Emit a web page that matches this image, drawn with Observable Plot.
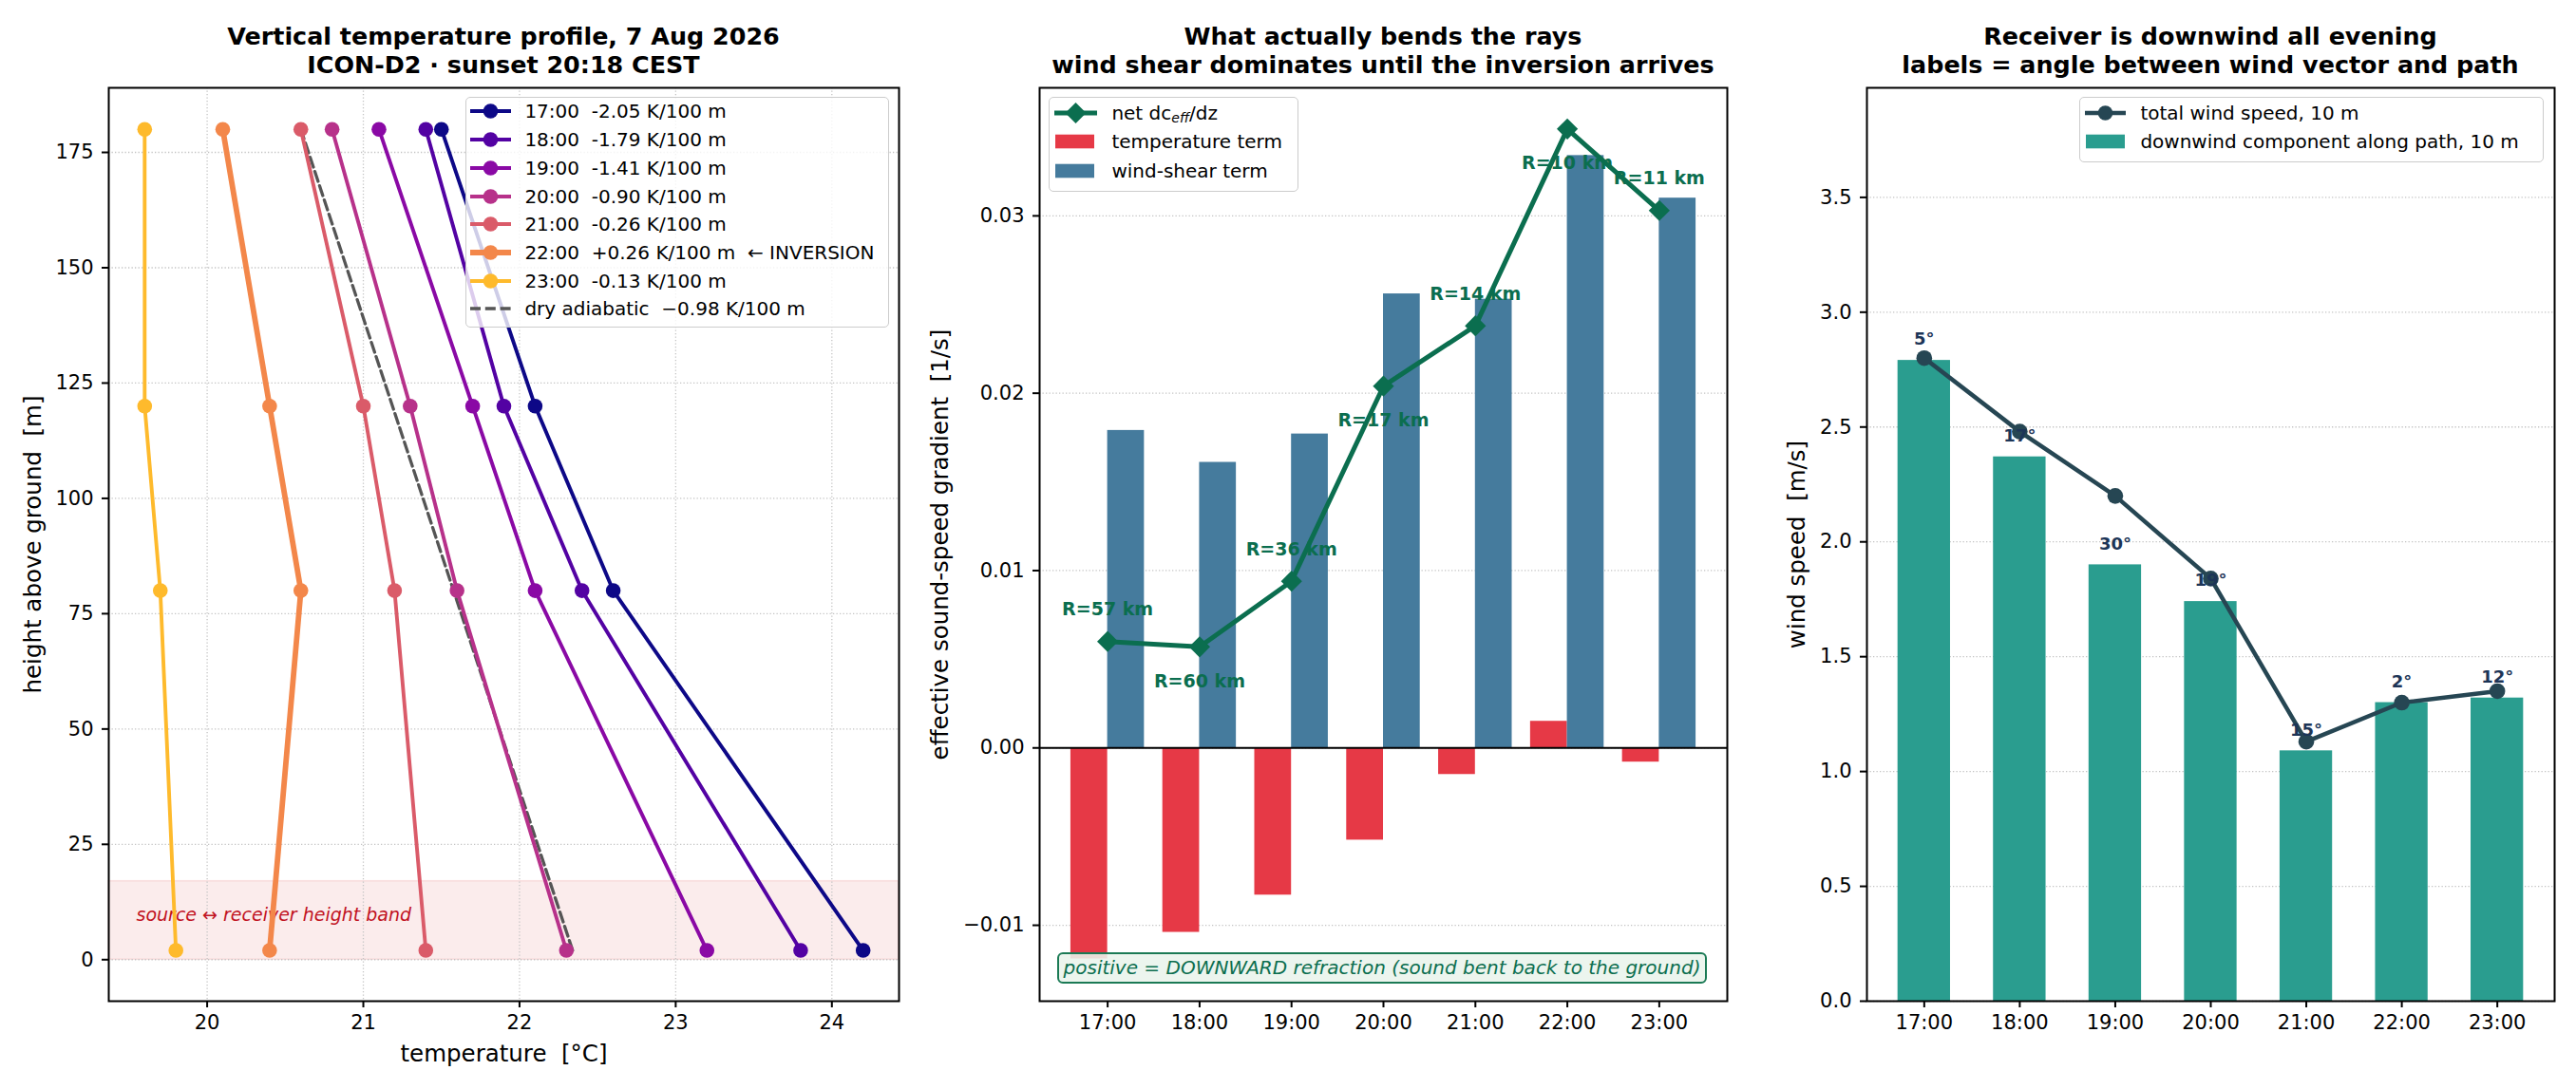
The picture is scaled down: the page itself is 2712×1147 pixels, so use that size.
<!DOCTYPE html>
<html>
<head>
<meta charset="utf-8">
<script src="https://cdn.jsdelivr.net/npm/d3@7"></script>
<script src="https://cdn.jsdelivr.net/npm/@observablehq/plot@0.6"></script>
<style>
html, body { margin: 0; padding: 0; background: #fff; }
#page { position: relative; width: 2712px; height: 1147px; overflow: hidden; font-family: "DejaVu Sans", sans-serif; color: #000; }
.panel { position: absolute; top: 72px; }
.panel svg { display: block; }
.title { position: absolute; top: 22.7px; font-weight: bold; font-size: 25.4px; line-height: 30.5px; text-align: center; white-space: nowrap; transform: translateX(-50%); }
.legend { position: absolute; box-sizing: border-box; border: 1.6px solid #cccccc; border-radius: 5px; background: rgba(255,255,255,0.8); }
.lrow { position: absolute; left: 0; width: 100%; height: 30px; }
.ltext { position: absolute; top: 0; line-height: 30px; font-size: 20px; white-space: pre; }
.note { position: absolute; box-sizing: border-box; border: 2px solid #1b7a55; border-radius: 6px; background: rgba(233,244,236,0.88); color: #0b6e4f; font-style: italic; font-size: 20px; line-height: 29px; text-align: center; white-space: nowrap; }
</style>
</head>
<body>
<div id="page"></div>
<script>
// ---------------- data ----------------
const hours = ["17:00", "18:00", "19:00", "20:00", "21:00", "22:00", "23:00"];

// panel 1: vertical temperature profiles
const heights = [2, 80, 120, 180];
const temp1700 = [24.2, 22.6, 22.1, 21.5];
const temp1800 = [23.8, 22.4, 21.9, 21.4];
const temp1900 = [23.2, 22.1, 21.7, 21.1];
const temp2000 = [22.3, 21.6, 21.3, 20.8];
const temp2100 = [21.4, 21.2, 21.0, 20.6];
const temp2200 = [20.4, 20.6, 20.4, 20.1];
const temp2300 = [19.8, 19.7, 19.6, 19.6];
const lapseLabels = ["-2.05", "-1.79", "-1.41", "-0.90", "-0.26", "+0.26", "-0.13"];
const dryAdiabatHeights = [2, 180];
const dryAdiabatTemps = [22.34, 20.6];
const bandHeights = [0, 17];
const tempTicks = [20, 21, 22, 23, 24];
const heightTicks = [0, 25, 50, 75, 100, 125, 150, 175];

// panel 2: gradient terms
const tempTerm = [-0.0119, -0.0104, -0.0083, -0.0052, -0.0015, 0.0015, -0.0008];
const shearTerm = [0.0179, 0.0161, 0.0177, 0.0256, 0.0253, 0.0334, 0.0310];
const netGradient = [0.0060, 0.0057, 0.0094, 0.0204, 0.0238, 0.0349, 0.0303];
const rayRadiusKm = [57, 60, 36, 17, 14, 10, 11];
const gradTicks = [-0.01, 0, 0.01, 0.02, 0.03];

// panel 3: wind
const totalWind = [2.80, 2.48, 2.20, 1.84, 1.13, 1.30, 1.35];
const downwindComp = [2.79, 2.37, 1.90, 1.74, 1.09, 1.30, 1.32];
const pathAngleDeg = [5, 17, 30, 19, 15, 2, 12];
const windTicks = [0, 0.5, 1, 1.5, 2, 2.5, 3, 3.5];

// ---------------- helpers ----------------
const page = document.getElementById("page");
const FONT = "DejaVu Sans";
const allTemps = [temp1700, temp1800, temp1900, temp2000, temp2100, temp2200, temp2300];
const profileColors = hours.map((_, i) => d3.interpolatePlasma(i * 0.85 / 6));
const idx = hours.map((_, i) => i);

function addPanel(left, width, svg) {
  const d = document.createElement("div");
  d.className = "panel";
  d.style.left = left + "px";
  d.style.width = width + "px";
  d.appendChild(svg);
  page.appendChild(d);
}
function addTitle(cx, html) {
  const d = document.createElement("div");
  d.className = "title";
  d.style.left = cx + "px";
  d.innerHTML = html;
  page.appendChild(d);
}
const gridStyle = {stroke: "#c4c4c4", strokeWidth: 1.3, strokeDasharray: "1.3,2.2", strokeOpacity: 1};
const axisStyle = {tickSize: 7, tickPadding: 8, strokeWidth: 2, fontSize: 21, label: null};
const yAxisStyle = {tickSize: 7, tickPadding: 9, strokeWidth: 2, fontSize: 21, label: null};

function yLabel(text, dx) {
  return Plot.text([text], {text: d => d, frameAnchor: "left", rotate: -90, dx, fontSize: 24.5, textAnchor: "middle", lineAnchor: "middle"});
}

// ---------------- panel 1 ----------------
const profileRows = allTemps.map((ts, k) => heights.map((z, j) => ({hour: hours[k], z, T: ts[j]})));
const dryRows = dryAdiabatHeights.map((z, j) => ({z, T: dryAdiabatTemps[j]}));
const bandRow = [{lo: bandHeights[0], hi: bandHeights[1]}];

const p1marks = [
  Plot.rect(bandRow, {y1: "lo", y2: "hi", fill: "#d62828", fillOpacity: 0.09, stroke: "#d62828", strokeOpacity: 0.12, strokeWidth: 1.5}),
  Plot.gridX({ticks: tempTicks, ...gridStyle}),
  Plot.gridY({ticks: heightTicks, ...gridStyle}),
  Plot.text(["source \u2194 receiver height band"], {text: d => d, y: [9.7], frameAnchor: "left", dx: 29, textAnchor: "start", fontStyle: "italic", fill: "#c1121f", fontSize: 19}),
  Plot.line(dryRows, {x: "T", y: "z", stroke: "#555555", strokeWidth: 3.3, strokeDasharray: "11,4.8"})
];
profileRows.forEach((rows, k) => {
  p1marks.push(Plot.line(rows, {x: "T", y: "z", stroke: profileColors[k], strokeWidth: k === 5 ? 5.8 : 3.9}));
  p1marks.push(Plot.dot(rows, {x: "T", y: "z", r: 7.8, fill: profileColors[k]}));
});
p1marks.push(
  Plot.axisX({ticks: tempTicks, tickFormat: "d", ...axisStyle}),
  Plot.axisY({ticks: heightTicks, tickFormat: "d", ...yAxisStyle}),
  Plot.text(["temperature\u00a0\u00a0[\u00b0C]"], {text: d => d, frameAnchor: "bottom", dy: 56, fontSize: 24.5, lineAnchor: "middle"}),
  yLabel("height above ground\u00a0\u00a0[m]", -79),
  Plot.frame({stroke: "#000", strokeWidth: 2})
);
addPanel(0, 960, Plot.plot({
  width: 960, height: 1075, marginTop: 20, marginBottom: 93, marginLeft: 114, marginRight: 14,
  style: {fontFamily: FONT, fontSize: "21px", background: "transparent", color: "#000"},
  x: {domain: [19.37, 24.43], axis: null},
  y: {domain: [-9, 189], axis: null},
  marks: p1marks
}));

// ---------------- panel 2 ----------------
addPanel(960, 880, Plot.plot({
  width: 880, height: 1075, marginTop: 20, marginBottom: 93, marginLeft: 134, marginRight: 22,
  style: {fontFamily: FONT, fontSize: "21px", background: "transparent", color: "#000"},
  x: {domain: [-0.74, 6.74], axis: null},
  y: {domain: [-0.01428, 0.03722], axis: null},
  marks: [
    Plot.gridY({ticks: gradTicks, ...gridStyle}),
    Plot.rect(tempTerm, {x1: (d, i) => i - 0.4, x2: (d, i) => i, y1: () => 0, y2: d => d, fill: "#e63946"}),
    Plot.rect(shearTerm, {x1: (d, i) => i, x2: (d, i) => i + 0.4, y1: () => 0, y2: d => d, fill: "#457b9d"}),
    Plot.ruleY([0], {stroke: "#000", strokeWidth: 2}),
    Plot.line(netGradient, {x: (d, i) => i, y: d => d, stroke: "#0b6e4f", strokeWidth: 5}),
    Plot.dot(netGradient, {x: (d, i) => i, y: d => d, symbol: "diamond2", r: 10, fill: "#0b6e4f"}),
    Plot.text(netGradient, {filter: (d, i) => i % 2 === 0, x: (d, i) => i, y: d => d, text: (d, i) => `R=${rayRadiusKm[i]} km`, dy: -33.5, fill: "#0b6e4f", fontWeight: "bold", fontSize: 19}),
    Plot.text(netGradient, {filter: (d, i) => i % 2 === 1, x: (d, i) => i, y: d => d, text: (d, i) => `R=${rayRadiusKm[i]} km`, dy: 36.5, fill: "#0b6e4f", fontWeight: "bold", fontSize: 19}),
    Plot.axisX({ticks: idx, tickFormat: i => hours[i], ...axisStyle}),
    Plot.axisY({ticks: gradTicks, tickFormat: ".2f", ...yAxisStyle}),
    yLabel("effective sound-speed gradient\u00a0\u00a0[1/s]", -104.4),
    Plot.frame({stroke: "#000", strokeWidth: 2})
  ]
}));

// ---------------- panel 3 ----------------
addPanel(1840, 872, Plot.plot({
  width: 872, height: 1075, marginTop: 20, marginBottom: 93, marginLeft: 125, marginRight: 23,
  style: {fontFamily: FONT, fontSize: "21px", background: "transparent", color: "#000"},
  x: {domain: [-0.6, 6.6], axis: null},
  y: {domain: [0, 3.977], axis: null},
  marks: [
    Plot.gridY({ticks: windTicks, ...gridStyle}),
    Plot.rect(downwindComp, {x1: (d, i) => i - 0.275, x2: (d, i) => i + 0.275, y1: () => 0, y2: d => d, fill: "#2a9d8f"}),
    Plot.line(totalWind, {x: (d, i) => i, y: d => d, stroke: "#264653", strokeWidth: 4.5}),
    Plot.dot(totalWind, {x: (d, i) => i, y: d => d, r: 8.3, fill: "#264653"}),
    Plot.text(downwindComp, {x: (d, i) => i, y: d => d, text: (d, i) => `${pathAngleDeg[i]}\u00b0`, dy: -22, fill: "#1d3557", fontWeight: "bold", fontSize: 18}),
    Plot.axisX({ticks: idx, tickFormat: i => hours[i], ...axisStyle}),
    Plot.axisY({ticks: windTicks, tickFormat: ".1f", ...yAxisStyle}),
    yLabel("wind speed\u00a0\u00a0[m/s]", -73.3),
    Plot.frame({stroke: "#000", strokeWidth: 2})
  ]
}));

// ---------------- titles ----------------
addTitle(530, "Vertical temperature profile, 7 Aug 2026<br>ICON-D2 \u00b7 sunset 20:18 CEST");
addTitle(1456, "What actually bends the rays<br>wind shear dominates until the inversion arrives");
addTitle(2327, "Receiver is downwind all evening<br>labels = angle between wind vector and path");

// ---------------- legends ----------------
function handleLine(color, w, lw, marker) {
  let s = `<line x1="0" y1="15" x2="${w}" y2="15" stroke="${color}" stroke-width="${lw}"/>`;
  const c = w / 2;
  if (marker === "circle") s += `<circle cx="${c}" cy="15" r="7.8" fill="${color}"/>`;
  if (marker === "diamond") s += `<polygon points="${c},4 ${c + 11},15 ${c},26 ${c - 11},15" fill="${color}"/>`;
  return s;
}
function handleDash(color, w) {
  return `<line x1="0" y1="15" x2="${w}" y2="15" stroke="${color}" stroke-width="3.3" stroke-dasharray="11,4.8"/>`;
}
function handlePatch(color, w) {
  return `<rect x="1" y="7.7" width="${w - 2}" height="14.6" fill="${color}"/>`;
}
function addLegend({left, top, width, height, handleX, handleW, textX, centers, rows}) {
  const box = document.createElement("div");
  box.className = "legend";
  Object.assign(box.style, {left: left + "px", top: top + "px", width: width + "px", height: height + "px"});
  rows.forEach((r, i) => {
    const row = document.createElement("div");
    row.className = "lrow";
    row.style.top = (centers[i] - 15 - 1.6) + "px";
    const svg = document.createElementNS("http://www.w3.org/2000/svg", "svg");
    svg.setAttribute("width", handleW);
    svg.setAttribute("height", 30);
    svg.style.position = "absolute";
    svg.style.left = (handleX - 1.6) + "px";
    svg.style.top = "0px";
    svg.style.overflow = "visible";
    svg.innerHTML = r.handle;
    row.appendChild(svg);
    const t = document.createElement("span");
    t.className = "ltext";
    t.style.left = (textX - 1.6) + "px";
    t.innerHTML = r.label;
    row.appendChild(t);
    box.appendChild(row);
  });
  page.appendChild(box);
}

const p1rows = hours.map((h, k) => ({
  handle: handleLine(profileColors[k], 43, k === 5 ? 5.8 : 3.9, "circle"),
  label: `${h}  ${lapseLabels[k]} K/100 m` + (k === 5 ? "  \u2190 INVERSION" : "")
}));
p1rows.push({handle: handleDash("#555555", 43), label: "dry adiabatic  \u22120.98 K/100 m"});
addLegend({
  left: 490, top: 102, width: 446, height: 243, handleX: 6, handleW: 43, textX: 63,
  centers: p1rows.map((_, i) => 16 + i * 29.7), rows: p1rows
});

addLegend({
  left: 1104, top: 102, width: 263, height: 100, handleX: 7, handleW: 45, textX: 67,
  centers: [17.6, 48, 79],
  rows: [
    {handle: handleLine("#0b6e4f", 45, 5, "diamond"), label: `net dc<sub style="font-style:italic;font-size:14px;vertical-align:-3px;line-height:0">eff</sub>/dz`},
    {handle: handlePatch("#e63946", 43), label: "temperature term"},
    {handle: handlePatch("#457b9d", 43), label: "wind-shear term"}
  ]
});

addLegend({
  left: 2189, top: 102, width: 489, height: 69, handleX: 7, handleW: 43, textX: 65,
  centers: [17.6, 48],
  rows: [
    {handle: handleLine("#264653", 43, 4.5, "circle"), label: "total wind speed, 10 m"},
    {handle: handlePatch("#2a9d8f", 43), label: "downwind component along path, 10 m"}
  ]
});

// ---------------- annotation box (panel 2) ----------------
const note = document.createElement("div");
note.className = "note";
Object.assign(note.style, {left: "1113px", top: "1003px", width: "684px", height: "33px"});
note.textContent = "positive = DOWNWARD refraction (sound bent back to the ground)";
page.appendChild(note);
</script>
</body>
</html>
